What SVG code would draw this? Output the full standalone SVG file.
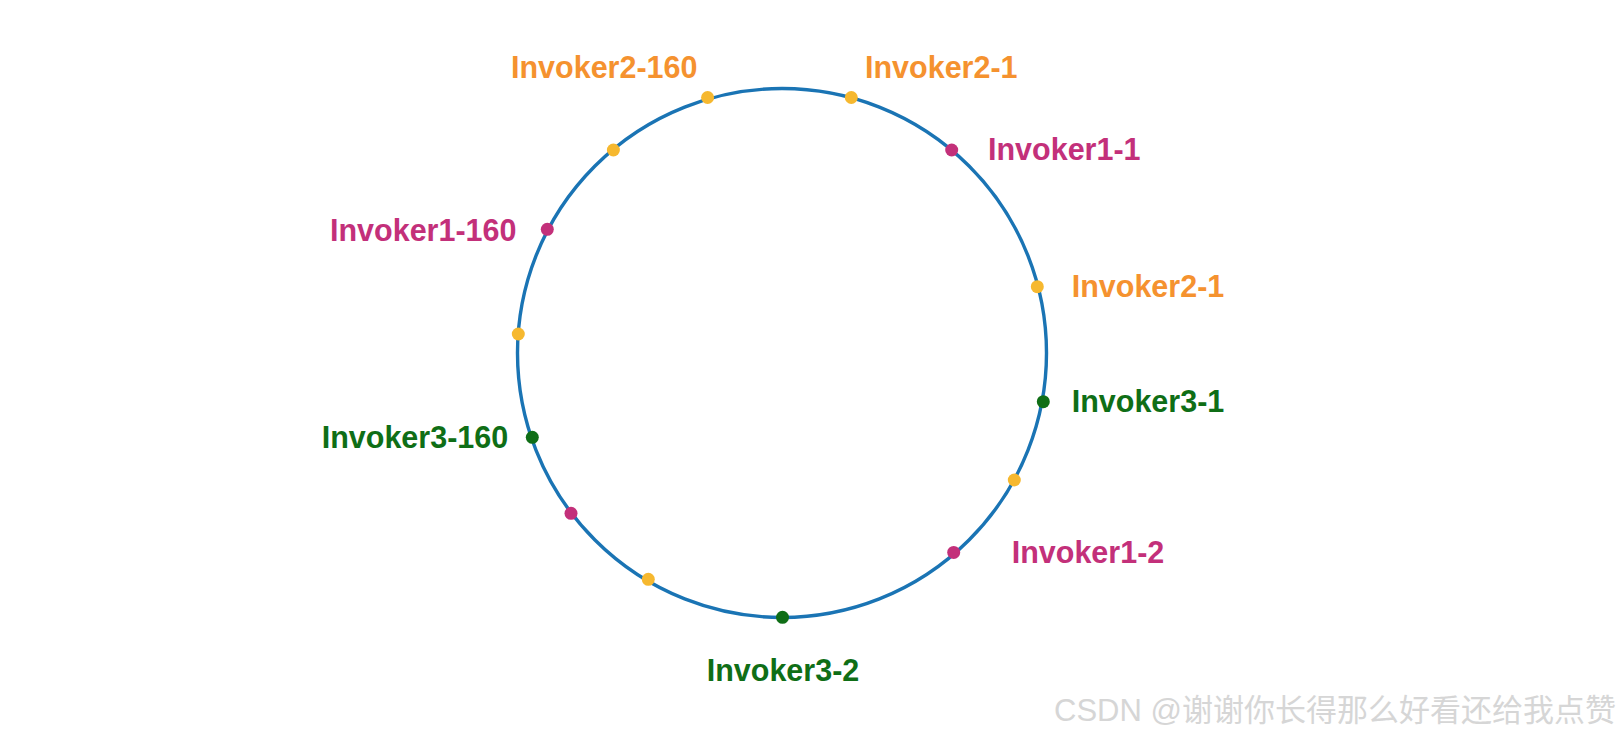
<svg xmlns="http://www.w3.org/2000/svg" width="1622" height="738" viewBox="0 0 1622 738">
<style>
.lbl{font-family:"Liberation Sans",Arial,Helvetica,sans-serif;font-weight:bold;font-size:30.5px}
.o{fill:#F5922F}.m{fill:#C3307A}.g{fill:#0F6E16}
.dy{fill:#F6B82F}.dm{fill:#C3307A}.dg{fill:#0F6E16}
.wm{font-family:"Liberation Sans","Noto Sans CJK SC",sans-serif;font-size:31px;fill:#d6d6d6}
</style>
<rect width="1622" height="738" fill="#ffffff"/>
<g id="ring">
<circle cx="782" cy="353" r="264.5" fill="none" stroke="#1A74B4" stroke-width="3.4"/>
</g>
<g id="dots">
<circle class="dy" cx="707.6" cy="97.5" r="6.5"/>
<circle class="dy" cx="851.3" cy="97.5" r="6.5"/>
<circle class="dy" cx="613.4" cy="150" r="6.5"/>
<circle class="dm" cx="951.7" cy="150" r="6.5"/>
<circle class="dm" cx="547.3" cy="229.3" r="6.5"/>
<circle class="dy" cx="1037.3" cy="286.7" r="6.5"/>
<circle class="dy" cx="518.3" cy="334" r="6.5"/>
<circle class="dg" cx="1043.3" cy="401.7" r="6.5"/>
<circle class="dg" cx="532.3" cy="437.3" r="6.5"/>
<circle class="dy" cx="1014.3" cy="480" r="6.5"/>
<circle class="dm" cx="571" cy="513.3" r="6.5"/>
<circle class="dm" cx="953.7" cy="552.4" r="6.5"/>
<circle class="dy" cx="648.3" cy="579.3" r="6.5"/>
<circle class="dg" cx="782.5" cy="617.3" r="6.5"/>
</g>
<g id="labels">
<text class="lbl o" x="511" y="78">Invoker2-160</text>
<text class="lbl o" x="865" y="78">Invoker2-1</text>
<text class="lbl m" x="988" y="160">Invoker1-1</text>
<text class="lbl m" x="330" y="240.7">Invoker1-160</text>
<text class="lbl o" x="1071.7" y="296.7">Invoker2-1</text>
<text class="lbl g" x="1071.7" y="412.3">Invoker3-1</text>
<text class="lbl g" x="321.7" y="448.3">Invoker3-160</text>
<text class="lbl m" x="1011.7" y="563.3">Invoker1-2</text>
<text class="lbl g" x="706.7" y="680.7">Invoker3-2</text>
</g>
<text class="wm" x="1054" y="721">CSDN @谢谢你长得那么好看还给我点赞</text>
</svg>
